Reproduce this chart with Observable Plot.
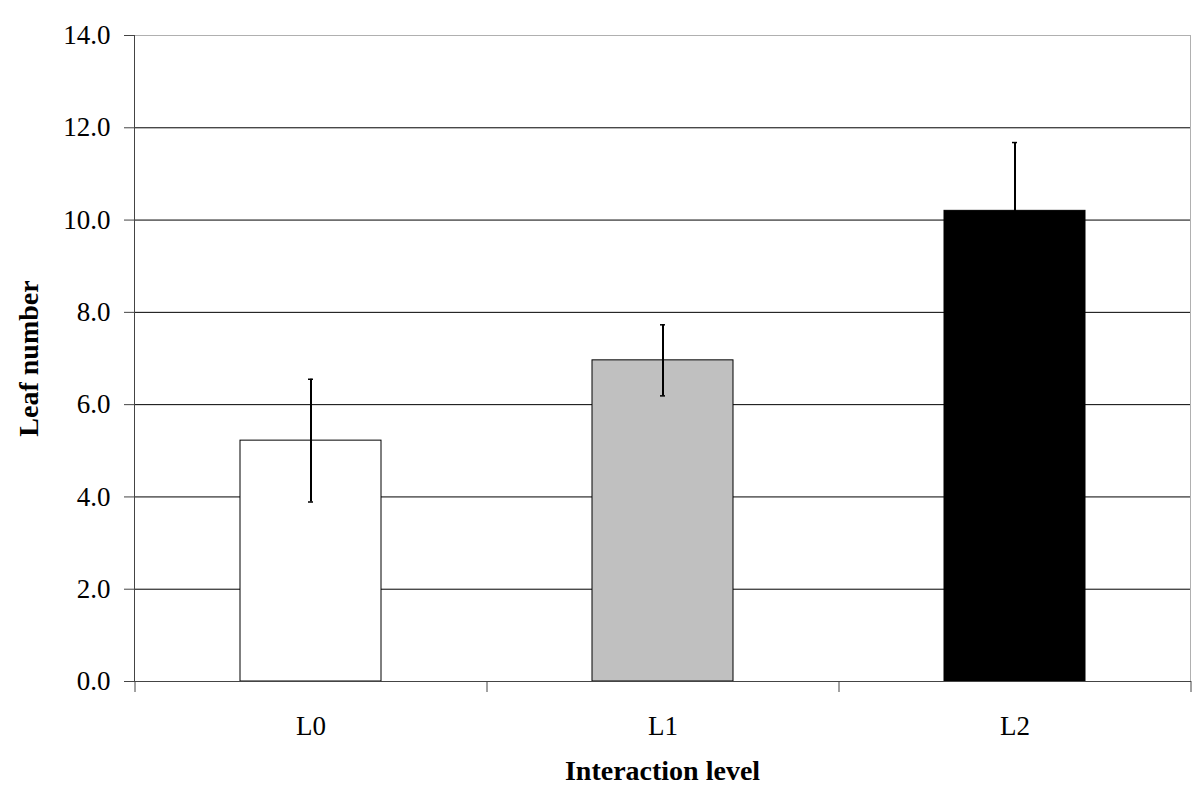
<!DOCTYPE html>
<html>
<head>
<meta charset="utf-8">
<script src="https://cdn.jsdelivr.net/npm/d3@7"></script>
<script src="https://cdn.jsdelivr.net/npm/@observablehq/plot@0.6"></script>
<style>
  html, body { margin: 0; padding: 0; background: #fff; }
  #chart svg { display: block; }
</style>
</head>
<body>
<div id="chart"></div>
<script>
const categories = ["L0", "L1", "L2"];
const means = [5.22, 6.96, 10.2];
const errors = [1.33, 0.77, 1.48];
const fills = ["#ffffff", "#c0c0c0", "#000000"];
const yTicks = [0, 2, 4, 6, 8, 10, 12, 14];
const gridTicks = [2, 4, 6, 8, 10, 12];

const data = categories.map((c, i) => ({
  cat: c, mean: means[i], lo: means[i] - errors[i], hi: means[i] + errors[i], fill: fills[i]
}));

const W = 1200, H = 805;
const mL = 134, mR = 10, mT = 35, mB = 124;
const plotW = W - mL - mR, plotH = H - mT - mB;
const half = plotW / categories.length / 2;

const chart = Plot.plot({
  width: W, height: H,
  marginLeft: mL, marginRight: mR, marginTop: mT, marginBottom: mB,
  style: { fontFamily: "Liberation Serif, Times New Roman, serif", fontSize: "27px", color: "#000", background: "#fff" },
  x: { domain: categories, paddingInner: 0.6, paddingOuter: 0.3, label: null },
  y: { domain: [0, 14], label: null },
  marks: [
    Plot.frame({ stroke: "#b0b0b0" }),
    Plot.ruleY(gridTicks, { stroke: "#000", strokeWidth: 1 }),
    Plot.barY(data, { x: "cat", y: "mean", fill: "fill", stroke: "#000", strokeWidth: 1 }),
    Plot.ruleX(data, { x: "cat", y1: "lo", y2: "hi", stroke: "#000", strokeWidth: 2 }),
    Plot.tickY(data, { x: "cat", y: "hi", stroke: "#000", strokeWidth: 1.5, insetLeft: 68, insetRight: 68 }),
    Plot.tickY(data, { x: "cat", y: "lo", stroke: "#000", strokeWidth: 1.5, insetLeft: 68, insetRight: 68 }),
    Plot.frame({ anchor: "left", stroke: "#444" }),
    Plot.frame({ anchor: "bottom", stroke: "#444" }),
    Plot.ruleX(categories, { x: d => d, dx: -half, stroke: "#444", insetTop: plotH, insetBottom: -11 }),
    Plot.ruleX(categories.slice(-1), { x: d => d, dx: half, stroke: "#444", insetTop: plotH, insetBottom: -11 }),
    Plot.axisY({ ticks: yTicks, tickFormat: d3.format(".1f"), tickSize: 10, tickPadding: 14, stroke: "#444", fontSize: 27, label: null }),
    Plot.axisX({ tickSize: 0, tickPadding: 34, fontSize: 27, label: null }),
    Plot.text(["Interaction level"], { frameAnchor: "bottom", dy: 98, fontWeight: "bold", fontSize: 28 }),
    Plot.text(["Leaf number"], { frameAnchor: "left", textAnchor: "middle", dx: -105, rotate: -90, fontWeight: "bold", fontSize: 28 })
  ]
});
document.getElementById("chart").appendChild(chart);
</script>
</body>
</html>
